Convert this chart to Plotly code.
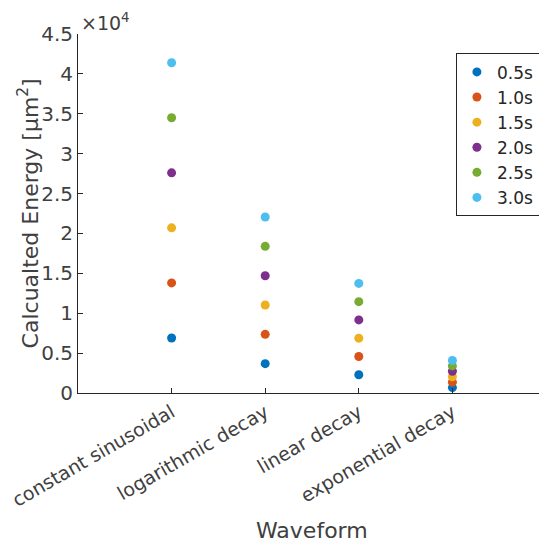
import plotly.graph_objects as go

categories = ["constant sinusoidal", "logarithmic decay", "linear decay", "exponential decay"]
series_names = ["0.5s", "1.0s", "1.5s", "2.0s", "2.5s", "3.0s"]
# values per series, one per category
energy = {
    "0.5s": [6900, 3680, 2290, 680],
    "1.0s": [13800, 7350, 4580, 1360],
    "1.5s": [20700, 11030, 6870, 2040],
    "2.0s": [27600, 14700, 9160, 2720],
    "2.5s": [34500, 18380, 11450, 3400],
    "3.0s": [41400, 22060, 13740, 4080],
}
colors = ["#0072BD", "#D95319", "#EDB120", "#7E2F8E", "#77AC30", "#4DBEEE"]
ytick_vals = [0, 5000, 10000, 15000, 20000, 25000, 30000, 35000, 40000, 45000]
ytick_text = ["0", "0.5", "1", "1.5", "2", "2.5", "3", "3.5", "4", "4.5"]

xpos = list(range(1, len(categories) + 1))
font_color = "#404040"
fam = "DejaVu Sans"

fig = go.Figure()
for name, col in zip(series_names, colors):
    fig.add_trace(go.Scatter(
        x=xpos, y=energy[name], mode="markers", name=name,
        marker=dict(color=col, size=9, line=dict(width=0)),
    ))

# page body has an 8px default margin, so the figure is sized to fit inside it
fig.update_layout(
    width=539, height=541,
    margin=dict(l=70, r=1, t=26, b=156),
    plot_bgcolor="white", paper_bgcolor="white",
    font=dict(family=fam, color=font_color, size=20),
    showlegend=True,
    legend=dict(
        x=0.987, y=0.946, xanchor="right", yanchor="top",
        bordercolor="#262626", borderwidth=1, bgcolor="white",
        font=dict(size=17, color="#262626", family=fam),
        itemwidth=30, tracegroupgap=0,
    ),
    xaxis=dict(
        range=[0, 5], tickvals=xpos, ticktext=categories, tickangle=-30,
        showgrid=False, zeroline=False, showline=True, linecolor="#262626",
        linewidth=1, ticks="inside", ticklen=5, tickcolor="#262626",
        tickfont=dict(size=19, color=font_color), automargin=False,
        ticklabeloverflow="allow",
    ),
    yaxis=dict(
        range=[0, 45000], tickvals=ytick_vals, ticktext=ytick_text,
        showgrid=False, zeroline=False, showline=True, linecolor="#262626",
        linewidth=1, ticks="inside", ticklen=5, tickcolor="#262626",
        tickfont=dict(size=20, color=font_color), automargin=False,
        ticklabeloverflow="allow",
    ),
    annotations=[
        dict(text="×10<sup>4</sup>", x=0, y=1, xref="paper", yref="paper",
             xanchor="left", yanchor="bottom", showarrow=False,
             font=dict(size=19, color=font_color, family=fam), xshift=1, yshift=-2),
        dict(text="Calcualted Energy [μm<sup>2</sup>]", x=-0.107, y=0.5,
             xref="paper", yref="paper", xanchor="center", yanchor="middle",
             textangle=-90, showarrow=False,
             font=dict(size=22, color=font_color, family=fam)),
        dict(text="Waveform", x=0.5, y=-0.382, xref="paper", yref="paper",
             xanchor="center", yanchor="middle", showarrow=False,
             font=dict(size=22, color=font_color, family=fam)),
    ],
)

fig.write_html("out.html")
